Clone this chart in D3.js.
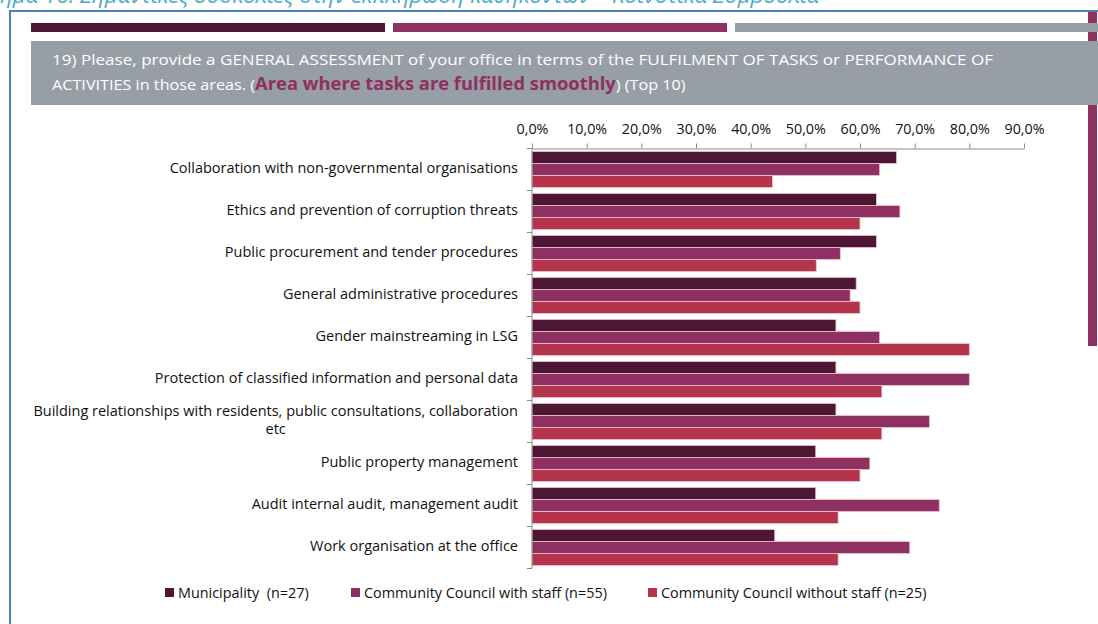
<!DOCTYPE html>
<html>
<head>
<meta charset="utf-8">
<script src="https://cdn.jsdelivr.net/npm/d3@7/dist/d3.min.js"></script>
<style>
  html, body { margin: 0; padding: 0; background: #fff; }
  svg { display: block; font-family: "Open Sans", "Noto Sans", sans-serif; }
</style>
</head>
<body>
<svg id="chart" width="1098" height="624"></svg>
<script>
// Areas where tasks are fulfilled smoothly (Top 10), shares per respondent group
const categories = [
  "Collaboration with non-governmental organisations",
  "Ethics and prevention of corruption threats",
  "Public procurement and tender procedures",
  "General administrative procedures ",
  "Gender mainstreaming in LSG",
  "Protection of classified information and personal data",
  "Building relationships with residents, public consultations, collaboration\netc",
  "Public property management",
  "Audit internal audit, management audit",
  "Work organisation at the office"
];
const seriesNames = [
  "Municipality  (n=27)",
  "Community Council with staff (n=55)",
  "Community Council without staff (n=25)"
];
const municipality = [0.667, 0.630, 0.630, 0.593, 0.556, 0.556, 0.556, 0.519, 0.519, 0.444];
const ccWithStaff = [0.636, 0.673, 0.564, 0.582, 0.636, 0.800, 0.727, 0.618, 0.745, 0.691];
const ccWithoutStaff = [0.44, 0.60, 0.52, 0.60, 0.80, 0.64, 0.64, 0.60, 0.56, 0.56];
const tickValues = [0, 0.1, 0.2, 0.3, 0.4, 0.5, 0.6, 0.7, 0.8, 0.9];
const seriesValues = [municipality, ccWithStaff, ccWithoutStaff];
const seriesColors = ["#4d1633", "#8e3162", "#b3344b"];

const svg = d3.select("#chart");

// ---- page decoration: caption, frame, coloured stripes, question box ----
// The figure caption runs above the frame; its first letters sit left of the page edge.
{
  const captionPrefix = "Γράφ";
  const captionText = "Γράφημα 16: Σημαντικές δυσκολίες στην εκπλήρωση καθηκόντων – Κοινοτικά Συμβούλια";
  const cap = svg.append("text")
    .attr("y", 3).attr("font-size", 20).attr("font-style", "italic")
    .attr("fill", "#4bacc6").text(captionText);
  const n = cap.node();
  const pre = n.getSubStringLength(0, captionPrefix.length);
  const full = n.getComputedTextLength();
  const size = 20 * 820 / (full - pre);
  cap.attr("font-size", size).attr("x", -pre * size / 20);
}

svg.append("line").attr("x1", 9).attr("x2", 1098).attr("y1", 11).attr("y2", 11)
  .attr("stroke", "#4f81bd").attr("stroke-width", 2);
svg.append("line").attr("x1", 10).attr("x2", 10).attr("y1", 10).attr("y2", 624)
  .attr("stroke", "#4f81bd").attr("stroke-width", 2);

svg.append("rect").attr("x", 1088).attr("y", 12).attr("width", 9).attr("height", 334)
  .attr("fill", "#8e3162");

const stripes = [
  { x0: 31, x1: 385, c: "#4d1633" },
  { x0: 393, x1: 727, c: "#8e3162" },
  { x0: 735, x1: 1098, c: "#979ea6" }
];
svg.selectAll("rect.stripe").data(stripes).join("rect")
  .attr("class", "stripe")
  .attr("x", d => d.x0).attr("y", 23)
  .attr("width", d => d.x1 - d.x0).attr("height", 9)
  .attr("fill", d => d.c);

svg.append("rect").attr("x", 31).attr("y", 41).attr("width", 1067).attr("height", 64)
  .attr("fill", "#979ea6");

svg.append("text").attr("x", 52).attr("y", 65)
  .attr("font-size", 15).attr("fill", "#fff")
  .attr("textLength", 941).attr("lengthAdjust", "spacingAndGlyphs")
  .text("19) Please, provide a GENERAL ASSESSMENT of your office in terms of the FULFILMENT OF TASKS or PERFORMANCE OF");

const q2 = svg.append("text").attr("x", 52).attr("y", 90)
  .attr("font-size", 15).attr("fill", "#fff");
q2.append("tspan").text("ACTIVITIES in those areas. (");
q2.append("tspan").attr("font-weight", "bold").attr("font-size", 17)
  .attr("fill", "#8e3162").text("Area where tasks are fulfilled smoothly");
q2.append("tspan").text(") (Top 10)");
// condense the second line to the same letter width as the first
{
  const w = q2.node().getComputedTextLength();
  q2.attr("transform", `translate(52,0) scale(${634 / w},1) translate(-52,0)`);
}

// ---- chart ----
const x = d3.scaleLinear().domain([0, 0.9]).range([532, 1024]);
const y = d3.scaleBand().domain(categories).range([148.5, 568.5]).padding(0);
const inner = d3.scaleBand().domain(d3.range(3)).range([3, y.bandwidth() - 3]).padding(0);

const fmt = v => d3.format(".1f")(v * 100).replace(".", ",") + "%";

const xAxis = svg.append("g")
  .attr("transform", `translate(0,${y.range()[0]})`)
  .call(d3.axisTop(x).tickValues(tickValues).tickFormat(fmt).tickSize(5).tickSizeOuter(0).tickPadding(10));
xAxis.select(".domain").attr("stroke", "#8c8c8c");
xAxis.selectAll(".tick line").attr("stroke", "#8c8c8c");
xAxis.selectAll(".tick text").attr("font-size", 14.3).attr("fill", "#111")
  .attr("font-family", "'Open Sans', sans-serif");

// bars
const groups = svg.selectAll("g.cat").data(categories).join("g")
  .attr("class", "cat")
  .attr("transform", c => `translate(0,${y(c)})`);
groups.selectAll("rect").data((c, i) => seriesValues.map((s, k) => ({ k, v: s[i] })))
  .join("rect")
  .attr("x", x(0))
  .attr("y", d => inner(d.k))
  .attr("width", d => x(d.v) - x(0))
  .attr("height", inner.bandwidth())
  .attr("fill", d => seriesColors[d.k])
  .attr("stroke", "#ecc3d3").attr("stroke-width", 0.8);

// category axis with boundary ticks
const yAxisG = svg.append("g");
yAxisG.append("line").attr("x1", x(0)).attr("x2", x(0))
  .attr("y1", y.range()[0]).attr("y2", y.range()[1]).attr("stroke", "#8c8c8c");
const bounds = categories.map(c => y(c)).concat([y.range()[1]]);
yAxisG.selectAll("line.tk").data(bounds).join("line").attr("class", "tk")
  .attr("x1", x(0) - 5).attr("x2", x(0)).attr("y1", d => d).attr("y2", d => d)
  .attr("stroke", "#8c8c8c");

// category labels, right aligned; wrapped lines centred under the first line
categories.forEach(c => {
  const lines = c.split("\n");
  const cy = y(c) + y.bandwidth() / 2;
  const lh = 18;
  const top = cy - (lines.length - 1) * lh / 2;
  const first = svg.append("text").attr("x", 518).attr("y", top + 3.5)
    .attr("text-anchor", "end").attr("font-size", 14.5).attr("fill", "#111")
    .text(lines[0]);
  const w = first.node().getComputedTextLength();
  lines.slice(1).forEach((ln, i) => {
    svg.append("text").attr("x", 518 - w / 2).attr("y", top + 3.5 + (i + 1) * lh)
      .attr("text-anchor", "middle").attr("font-size", 14.5).attr("fill", "#111")
      .text(ln);
  });
});

// legend
const legendX = [165, 351, 648];
const lg = svg.selectAll("g.lg").data(seriesNames).join("g").attr("class", "lg")
  .attr("transform", (d, i) => `translate(${legendX[i]},588)`);
lg.append("rect").attr("width", 9).attr("height", 9).attr("fill", (d, i) => seriesColors[i]);
lg.append("text").attr("x", 13).attr("y", 9.5).attr("font-size", 14.4).attr("fill", "#111")
  .style("white-space", "pre").attr("xml:space", "preserve")
  .text(d => d);
</script>
</body>
</html>
